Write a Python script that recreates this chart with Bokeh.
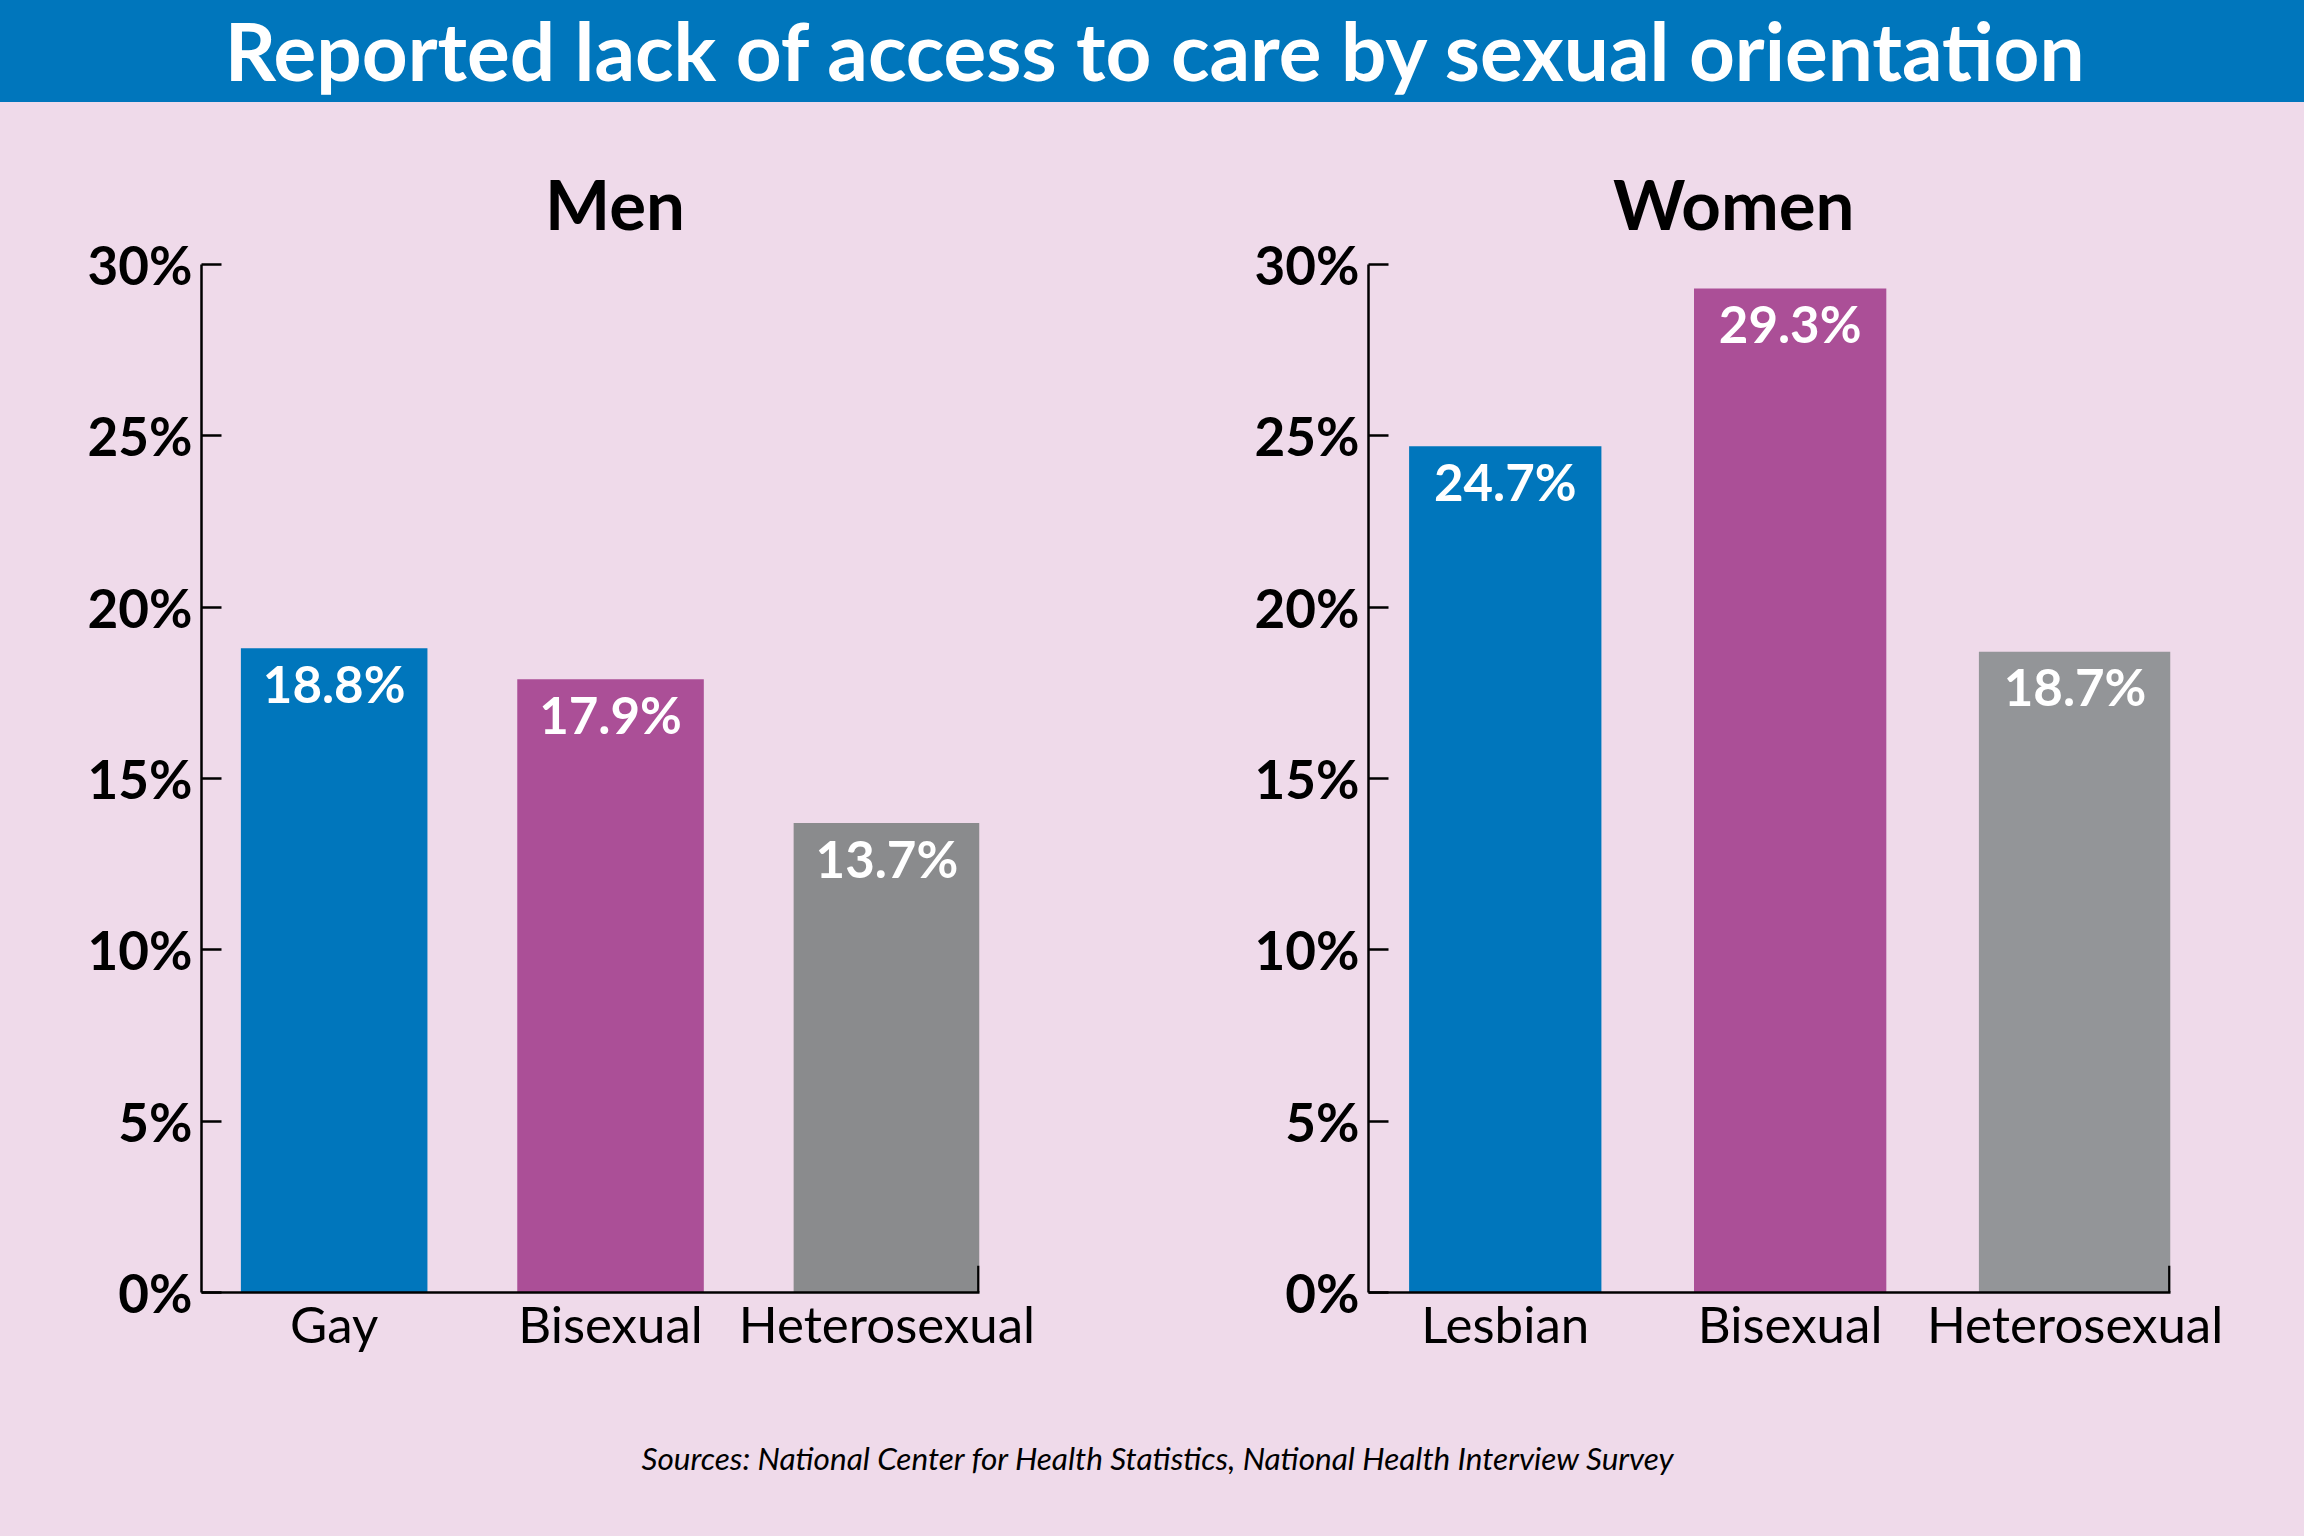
from bokeh.plotting import figure
from bokeh.layouts import column, row
from bokeh.models import Range1d, FixedTicker, Label, ColumnDataSource
from bokeh.embed import file_html
from bokeh.resources import INLINE
from bokeh.core.properties import value

TITLE = "Reported lack of access to care by sexual orientation"
SOURCE = "Sources: National Center for Health Statistics, National Health Interview Survey"

men_title = "Men"
men_categories = ["Gay", "Bisexual", "Heterosexual"]
men_values = [18.8, 17.9, 13.7]
men_colors = ["#0076BC", "#AB4F97", "#8A8B8D"]

women_title = "Women"
women_categories = ["Lesbian", "Bisexual", "Heterosexual"]
women_values = [24.7, 29.3, 18.7]
women_colors = ["#0076BC", "#AB4F97", "#939598"]

y_ticks = [0, 5, 10, 15, 20, 25, 30]
y_tick_labels = ["0%", "5%", "10%", "15%", "20%", "25%", "30%"]

PINK = "#EFDAEA"
BLUE = "#0076BC"
FONT = "Lato"

X_START, X_END = -0.48, 2.335
Y_END = 34.73
MID_H = 1298
HEAD_H = 102
FOOT_H = 136


def panel(title, cats, vals, colors, width, left, right, title_x):
    xs = list(range(len(cats)))
    p = figure(width=width, height=MID_H, x_range=Range1d(X_START, X_END),
               y_range=Range1d(0, Y_END), output_backend="svg", toolbar_location=None,
               min_border_left=left, min_border_right=right, min_border_top=0,
               min_border_bottom=108)
    p.background_fill_color = None
    p.border_fill_color = PINK
    p.outline_line_color = None
    p.grid.visible = False
    p.styles = {"background-color": PINK}

    src = ColumnDataSource(dict(x=xs, top=vals, color=colors,
                                label=[f"{v:.1f}%" for v in vals]))
    p.vbar(x="x", top="top", bottom=0, width=0.675, fill_color="color",
           line_color=None, source=src)
    p.text(x="x", y="top", text="label", source=src, text_align="center",
           text_baseline="alphabetic", y_offset=35, text_color="white",
           text_font=value(FONT), text_font_style="bold", text_font_size="51px")

    # small end mark at the right of the baseline
    p.segment(x0=[X_END - 0.004], y0=[0], x1=[X_END - 0.004], y1=[0.78],
              line_color="black", line_width=2.5)

    xa = p.xaxis[0]
    xa.ticker = FixedTicker(ticks=xs)
    xa.major_label_overrides = {i: c for i, c in enumerate(cats)}
    xa.major_tick_in = 0
    xa.major_tick_out = 0
    xa.minor_tick_line_color = None
    xa.axis_line_width = 2.5
    xa.axis_line_color = "black"
    xa.major_label_standoff = 0
    xa.major_label_text_font = FONT
    xa.major_label_text_font_size = "51px"
    xa.major_label_text_color = "black"

    ya = p.yaxis[0]
    ya.ticker = FixedTicker(ticks=y_ticks)
    ya.major_label_overrides = {t: l for t, l in zip(y_ticks, y_tick_labels)}
    ya.bounds = (0, 30)
    ya.major_tick_in = 20
    ya.major_tick_out = 0
    ya.minor_tick_line_color = None
    ya.axis_line_width = 2.5
    ya.axis_line_color = "black"
    ya.major_tick_line_width = 2.5
    ya.major_tick_line_color = "black"
    ya.major_label_standoff = 9
    ya.major_label_text_font = FONT
    ya.major_label_text_font_style = "bold"
    ya.major_label_text_font_size = "53px"
    ya.major_label_text_color = "black"

    p.add_layout(Label(x=title_x, y=31.78, text=title, text_align="center",
                       text_baseline="alphabetic", text_font=FONT,
                       text_font_style="bold", text_font_size="69px",
                       text_color="black"))
    return p


men = panel(men_title, men_categories, men_values, men_colors, 1150, 201, 171, 1.016)
women = panel(women_title, women_categories, women_values, women_colors, 1154, 218, 134, 0.802)

header = figure(width=2304, height=HEAD_H, x_range=Range1d(0, 2304), y_range=Range1d(0, HEAD_H),
                output_backend="svg", toolbar_location=None, x_axis_location=None,
                y_axis_location=None, min_border=0)
header.background_fill_color = None
header.border_fill_color = BLUE
header.outline_line_color = None
header.grid.visible = False
header.styles = {"background-color": BLUE}
header.add_layout(Label(x=1156, y=53, text=TITLE, text_align="center",
                        text_baseline="alphabetic", text_font=FONT,
                        text_font_style="bold", text_font_size="80px",
                        text_color="white"))

footer = figure(width=2304, height=FOOT_H, x_range=Range1d(0, 2304), y_range=Range1d(0, FOOT_H),
                output_backend="svg", toolbar_location=None, x_axis_location=None,
                y_axis_location=None, min_border=0)
footer.background_fill_color = None
footer.border_fill_color = PINK
footer.outline_line_color = None
footer.grid.visible = False
footer.styles = {"background-color": PINK}
footer.add_layout(Label(x=1158, y=79, text=SOURCE, text_align="center",
                        text_baseline="alphabetic", text_font=FONT,
                        text_font_style="italic", text_font_size="31.5px",
                        text_color="black"))

layout = column(header, row(men, women, styles={"background-color": PINK}), footer,
                styles={"background-color": PINK})

open("out.html", "w").write(file_html(layout, INLINE))
